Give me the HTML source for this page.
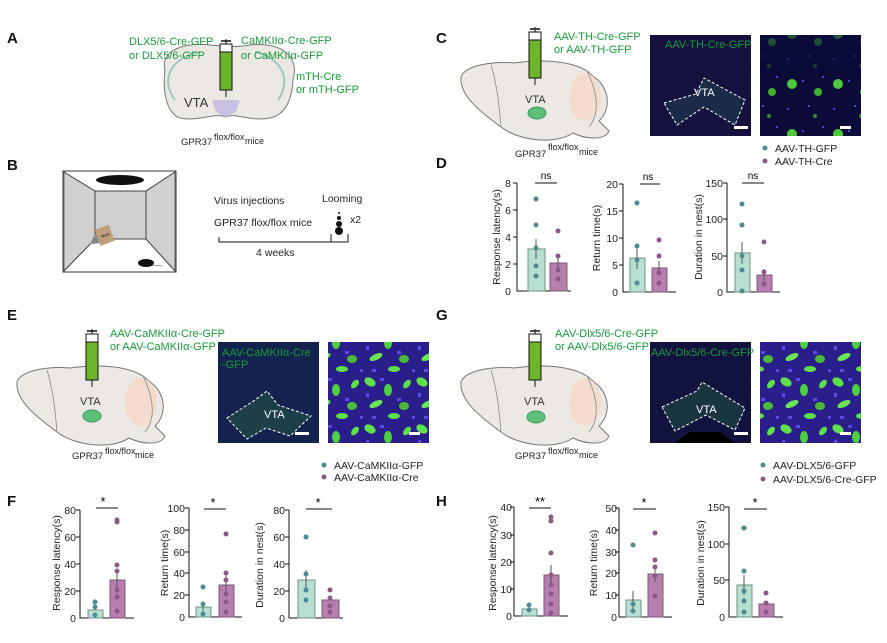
<!DOCTYPE html>
<html><head><meta charset="utf-8"><style>
html,body{margin:0;padding:0;background:#fff}
svg{display:block;font-family:"Liberation Sans",Arial,sans-serif}
.g{fill:#1a9a3a;font-size:11px}
.t{font-size:10.5px;fill:#222}
.lab{font-size:15px;font-weight:bold;fill:#111}
.tk{font-size:10.5px;fill:#222;text-anchor:end}
.yl{font-size:10.5px;fill:#222;text-anchor:middle}
.ax{stroke:#111;stroke-width:1;fill:none}
.bt{fill:#b7e0d2;stroke:#6f8f86;stroke-width:1}
.bp{fill:#b77fae;stroke:#7d5a78;stroke-width:1}
.dt{fill:#4f8a92}.dp{fill:#8a5a84}
.brain{fill:#ece9e4;stroke:#777;stroke-width:1}
</style></head><body>
<svg width="887" height="643" viewBox="0 0 887 643" xmlns="http://www.w3.org/2000/svg">
<defs>
<pattern id="blobs" width="52" height="47" patternUnits="userSpaceOnUse">
<rect width="52" height="47" fill="#2a1f8a"/>
<ellipse cx="6" cy="6" rx="6" ry="4" fill="#5ee04a" transform="rotate(30 6 6)"/>
<ellipse cx="24" cy="14" rx="4" ry="6" fill="#4fd040"/>
<ellipse cx="12" cy="28" rx="7" ry="3" fill="#6ae655" transform="rotate(-25 12 28)"/>
<ellipse cx="40" cy="30" rx="5" ry="4" fill="#4ab838"/>
<ellipse cx="43" cy="8" rx="3" ry="5" fill="#5ee04a" transform="rotate(40 43 8)"/>
<ellipse cx="30" cy="40" rx="6" ry="3" fill="#5ee04a"/>
<rect x="16" y="2" width="4" height="3" fill="#5a4ae8"/>
<rect x="2" y="17" width="3" height="4" fill="#5a4ae8"/>
<rect x="33" y="22" width="4" height="3" fill="#5a4ae8"/>
<rect x="48" y="40" width="3" height="3" fill="#5a4ae8"/>
<rect x="8" y="40" width="4" height="3" fill="#5a4ae8"/>
</pattern>
<pattern id="blobs2" width="46" height="50" patternUnits="userSpaceOnUse">
<rect width="46" height="50" fill="#0c0b3a"/>
<circle cx="10" cy="34" r="5" fill="#4ec83e"/>
<circle cx="33" cy="16" r="2" fill="#3a8a30"/>
<circle cx="36" cy="42" r="4" fill="#3fb030"/>
<rect x="20" y="30" width="2" height="2" fill="#4e3fd8"/>
<rect x="5" y="8" width="2" height="2" fill="#4e3fd8"/>
<rect x="26" y="5" width="2" height="2" fill="#4e3fd8"/>
<rect x="40" y="26" width="2" height="2" fill="#4e3fd8"/>
</pattern>
<g id="sag">
<path class="brain" d="M2,22 C6,10 35,6 55,8 C85,4 112,6 128,16 L140,26 C152,40 150,56 140,66 L150,76 C146,86 126,84 114,78 C96,90 60,86 42,72 C26,60 0,42 2,22Z"/>
<path d="M32,10 C38,30 40,48 42,72" fill="none" stroke="#888" stroke-width="0.8"/>
<ellipse cx="126" cy="42" rx="16" ry="24" fill="#f3dccd"/>
<path d="M128,16 C140,40 140,60 130,72" fill="none" stroke="#888" stroke-width="0.8"/>
</g>
<g id="syr">
<line x1="0" y1="-2" x2="0" y2="56" stroke="#111"/>
<line x1="-5" y1="0" x2="5" y2="0" stroke="#111" stroke-width="1.5"/>
<rect x="-6" y="3" width="12" height="8" fill="#fff" stroke="#111"/>
<rect x="-6" y="11" width="12" height="38" fill="#6db52a" stroke="#111"/>
</g>
</defs>

<!-- A -->
<text class="lab" x="7" y="43">A</text>
<path class="brain" d="M165,70 C160,50 185,42 210,45 C226,47 240,47 250,45 C280,42 300,55 293,80 C292,100 285,115 270,118 C250,122 235,112 226,117 C215,112 200,122 180,118 C168,114 162,95 165,70Z"/>
<path d="M175,100 C160,80 170,58 200,52 M278,100 C292,80 282,58 255,52" fill="none" stroke="#9cc8c0" stroke-width="2"/>
<path d="M212,100 L240,100 L236,112 L226,117 L216,112Z" fill="#c8c0e0"/>
<use href="#syr" x="226" y="41"/>
<text class="g" x="129" y="45">DLX5/6-Cre-GFP</text>
<text class="g" x="129" y="59">or DLX5/6-GFP</text>
<text class="g" x="241" y="44">CaMKIIα-Cre-GFP</text>
<text class="g" x="241" y="59">or CaMKIIα-GFP</text>
<text class="g" x="296" y="80">mTH-Cre</text>
<text class="g" x="296" y="93">or mTH-GFP</text>
<text x="184" y="107" style="font-size:13px;fill:#333">VTA</text>
<text class="t" x="181" y="145" style="font-size:9.5px">GPR37</text>
<text class="t" x="214" y="140" style="font-size:9px">flox/flox</text>
<text class="t" x="245" y="144" style="font-size:9px">mice</text>

<!-- B -->
<text class="lab" x="7" y="170">B</text>
<rect x="63" y="171" width="113" height="101" fill="#fff" stroke="#333"/>
<path d="M64,172 L95,191 L95,239 L64,271Z M175,172 L146,191 L146,239 L175,271Z" fill="#d0d0d0" stroke="#444" stroke-width="0.7"/>
<rect x="95" y="191" width="51" height="48" fill="#d0d0d0" stroke="#444"/>
<path d="M64,172 L95,191 L146,191 L175,172 M64,271 L95,239 L146,239 L175,271" fill="none" stroke="#444"/>
<ellipse cx="120" cy="180" rx="24" ry="5" fill="#111"/>
<path d="M90,244 L97,230 L102,243Z" fill="#888"/>
<rect x="97" y="227" width="15" height="17" fill="#c0a07c" transform="rotate(-20 104 235)"/>
<text x="101" y="237" style="font-size:4px" transform="rotate(-20 104 235)">Nest</text>
<ellipse cx="146" cy="263" rx="8" ry="4" fill="#111"/>
<line x1="152" y1="265" x2="162" y2="266" stroke="#333" stroke-width="0.5"/>
<text class="t" x="214" y="204">Virus injections</text>
<text class="t" x="214" y="226">GPR37 flox/flox mice</text>
<text class="t" x="322" y="202">Looming</text>
<text class="t" x="350" y="223">x2</text>
<circle cx="339" cy="231" r="4" fill="#111"/><circle cx="339" cy="224" r="3" fill="#111"/><circle cx="339" cy="218" r="2" fill="#111"/><circle cx="339" cy="213" r="1" fill="#111"/>
<path d="M219,237 L219,242 L348,242 L348,234 M331,234 L331,242" fill="none" stroke="#111"/>
<text class="t" x="256" y="256">4 weeks</text>

<!-- C -->
<text class="lab" x="436" y="43">C</text>
<use href="#sag" x="459" y="55"/>
<ellipse cx="537" cy="113" rx="9" ry="6" fill="#5fbf7a" stroke="#3a9a5a"/>
<use href="#syr" x="535" y="29"/>
<text class="g" x="554" y="40">AAV-TH-Cre-GFP</text>
<text class="g" x="554" y="53">or AAV-TH-GFP</text>
<text x="525" y="103" style="font-size:11px;fill:#333">VTA</text>
<text class="t" x="515" y="157" style="font-size:9.5px">GPR37</text>
<text class="t" x="548" y="150" style="font-size:9px">flox/flox</text>
<text class="t" x="579" y="155" style="font-size:9px">mice</text>
<rect x="650" y="35" width="101" height="101" fill="#15113e"/>
<text x="665" y="48" style="font-size:11px;fill:#1a9a3a">AAV-TH-Cre-GFP</text>
<path d="M664,103 L696,94 L704,78 L745,100 L735,125 L704,107 L677,125Z" fill="#1a2a48" stroke="#fff" stroke-dasharray="3,2"/>
<text x="694" y="96" style="font-size:11px;fill:#fff">VTA</text>
<rect x="734" y="126" width="14" height="3" fill="#fff"/>
<rect x="760" y="35" width="101" height="101" fill="url(#blobs2)"/>
<rect x="760" y="35" width="101" height="40" fill="#0c0b3a" opacity="0.6"/>
<rect x="840" y="126" width="11" height="3" fill="#fff"/>
<circle cx="765" cy="148" r="2.5" class="dt"/><text class="t" x="775" y="152">AAV-TH-GFP</text>
<circle cx="765" cy="161" r="2.5" class="dp"/><text class="t" x="775" y="165">AAV-TH-Cre</text>

<!-- D -->
<text class="lab" x="436" y="168">D</text>
<g>
<path class="ax" d="M517,183 L517,291 L571,291 M513,183 L517,183 M513,210 L517,210 M513,237 L517,237 M513,264 L517,264"/>
<text class="tk" x="511" y="187">8</text><text class="tk" x="511" y="214">6</text><text class="tk" x="511" y="241">4</text><text class="tk" x="511" y="268">2</text><text class="tk" x="511" y="295">0</text>
<rect class="bt" x="528" y="249" width="17" height="42"/><rect class="bp" x="550" y="263" width="17" height="28"/>
<line x1="536" y1="239" x2="536" y2="259" stroke="#555"/><line x1="558" y1="256" x2="558" y2="270" stroke="#555"/>
<circle class="dt" cx="536" cy="199" r="2.5"/><circle class="dt" cx="536" cy="225" r="2.5"/><circle class="dt" cx="536" cy="266" r="2.5"/><circle class="dt" cx="536" cy="276" r="2.5"/><circle class="dt" cx="536" cy="248" r="2.5"/>
<circle class="dp" cx="558" cy="231" r="2.5"/><circle class="dp" cx="558" cy="256" r="2.5"/><circle class="dp" cx="558" cy="270" r="2.5"/><circle class="dp" cx="558" cy="279" r="2.5"/>
<line x1="535" y1="183" x2="557" y2="183" stroke="#111"/><text x="546" y="179" style="font-size:10px;text-anchor:middle">ns</text>
<text class="yl" transform="translate(500,237) rotate(-90)">Response latency(s)</text>
</g>
<g>
<path class="ax" d="M623,184 L623,292 L676,292 M619,184 L623,184 M619,211 L623,211 M619,238 L623,238 M619,265 L623,265"/>
<text class="tk" x="618" y="188">20</text><text class="tk" x="618" y="215">15</text><text class="tk" x="618" y="242">10</text><text class="tk" x="618" y="269">5</text><text class="tk" x="618" y="296">0</text>
<rect class="bt" x="630" y="258" width="15" height="34"/><rect class="bp" x="652" y="268" width="15" height="24"/>
<line x1="637" y1="247" x2="637" y2="269" stroke="#555"/><line x1="659" y1="261" x2="659" y2="275" stroke="#555"/>
<circle class="dt" cx="637" cy="203" r="2.5"/><circle class="dt" cx="637" cy="246" r="2.5"/><circle class="dt" cx="637" cy="260" r="2.5"/><circle class="dt" cx="637" cy="283" r="2.5"/>
<circle class="dp" cx="659" cy="240" r="2.5"/><circle class="dp" cx="659" cy="256" r="2.5"/><circle class="dp" cx="659" cy="273" r="2.5"/><circle class="dp" cx="659" cy="283" r="2.5"/>
<line x1="640" y1="184" x2="660" y2="184" stroke="#111"/><text x="648" y="180" style="font-size:10px;text-anchor:middle">ns</text>
<text class="yl" transform="translate(600,238) rotate(-90)">Return time(s)</text>
</g>
<g>
<path class="ax" d="M727,183 L727,292 L780,292 M723,183 L727,183 M723,219 L727,219 M723,256 L727,256"/>
<text class="tk" x="723" y="187">150</text><text class="tk" x="723" y="223">100</text><text class="tk" x="723" y="260">50</text><text class="tk" x="723" y="296">0</text>
<rect class="bt" x="735" y="253" width="15" height="39"/><rect class="bp" x="757" y="275" width="15" height="17"/>
<line x1="742" y1="242" x2="742" y2="264" stroke="#555"/><line x1="764" y1="269" x2="764" y2="281" stroke="#555"/>
<circle class="dt" cx="742" cy="204" r="2.5"/><circle class="dt" cx="742" cy="225" r="2.5"/><circle class="dt" cx="742" cy="256" r="2.5"/><circle class="dt" cx="742" cy="270" r="2.5"/><circle class="dt" cx="742" cy="291" r="2.5"/>
<circle class="dp" cx="764" cy="242" r="2.5"/><circle class="dp" cx="764" cy="272" r="2.5"/><circle class="dp" cx="764" cy="284" r="2.5"/>
<line x1="742" y1="183" x2="764" y2="183" stroke="#111"/><text x="753" y="179" style="font-size:10px;text-anchor:middle">ns</text>
<text class="yl" transform="translate(702,237) rotate(-90)">Duration in nest(s)</text>
</g>

<!-- E -->
<text class="lab" x="7" y="320">E</text>
<use href="#sag" x="15" y="360"/>
<ellipse cx="92" cy="416" rx="9" ry="6" fill="#5fbf7a" stroke="#3a9a5a"/>
<use href="#syr" x="92" y="331"/>
<text class="g" x="110" y="337">AAV-CaMKIIα-Cre-GFP</text>
<text class="g" x="110" y="350">or AAV-CaMKIIα-GFP</text>
<text x="80" y="405" style="font-size:11px;fill:#333">VTA</text>
<text class="t" x="72" y="459" style="font-size:9.5px">GPR37</text>
<text class="t" x="105" y="454" style="font-size:9px">flox/flox</text>
<text class="t" x="135" y="458" style="font-size:9px">mice</text>
<rect x="218" y="342" width="101" height="101" fill="#13234e"/>
<text x="222" y="356" style="font-size:11px;fill:#1a9a3a">AAV-CaMKIIα-Cre</text>
<text x="222" y="368" style="font-size:11px;fill:#1a9a3a">-GFP</text>
<path d="M227,418 L255,400 L267,391 L278,405 L311,416 L290,436 L266,428 L247,439Z" fill="#1c3f48" stroke="#fff" stroke-dasharray="3,2"/>
<text x="264" y="418" style="font-size:11px;fill:#fff">VTA</text>
<rect x="295" y="432" width="14" height="3" fill="#fff"/>
<rect x="328" y="342" width="101" height="101" fill="url(#blobs)"/>
<rect x="409" y="432" width="11" height="3" fill="#fff"/>
<circle cx="324" cy="465" r="2.5" class="dt"/><text class="t" x="334" y="469">AAV-CaMKIIα-GFP</text>
<circle cx="324" cy="477" r="2.5" class="dp"/><text class="t" x="334" y="481">AAV-CaMKIIα-Cre</text>

<!-- F -->
<text class="lab" x="7" y="506">F</text>
<g>
<path class="ax" d="M80,510 L80,618 L134,618 M76,510 L80,510 M76,537 L80,537 M76,564 L80,564 M76,591 L80,591"/>
<text class="tk" x="76" y="514">80</text><text class="tk" x="76" y="541">60</text><text class="tk" x="76" y="568">40</text><text class="tk" x="76" y="595">20</text><text class="tk" x="76" y="622">0</text>
<rect class="bt" x="88" y="610" width="15" height="8"/><rect class="bp" x="110" y="580" width="15" height="38"/>
<line x1="117" y1="570" x2="117" y2="590" stroke="#555"/>
<circle class="dt" cx="95" cy="602" r="2.5"/><circle class="dt" cx="95" cy="607" r="2.5"/><circle class="dt" cx="95" cy="615" r="2.5"/>
<circle class="dp" cx="117" cy="520" r="2.5"/><circle class="dp" cx="117" cy="522" r="2.5"/><circle class="dp" cx="117" cy="565" r="2.5"/><circle class="dp" cx="117" cy="571" r="2.5"/><circle class="dp" cx="117" cy="590" r="2.5"/><circle class="dp" cx="117" cy="597" r="2.5"/><circle class="dp" cx="117" cy="611" r="2.5"/>
<line x1="96" y1="508" x2="118" y2="508" stroke="#111"/><text x="103" y="506" style="font-size:13px;text-anchor:middle">*</text>
<text class="yl" transform="translate(60,563) rotate(-90)">Response latency(s)</text>
</g>
<g>
<path class="ax" d="M189,508 L189,617 L242,617 M185,508 L189,508 M185,530 L189,530 M185,552 L189,552 M185,573 L189,573 M185,595 L189,595"/>
<text class="tk" x="185" y="512">100</text><text class="tk" x="185" y="534">80</text><text class="tk" x="185" y="556">60</text><text class="tk" x="185" y="577">40</text><text class="tk" x="185" y="599">20</text><text class="tk" x="185" y="621">0</text>
<rect class="bt" x="196" y="607" width="15" height="10"/><rect class="bp" x="219" y="585" width="15" height="32"/>
<line x1="203" y1="603" x2="203" y2="611" stroke="#555"/><line x1="226" y1="575" x2="226" y2="595" stroke="#555"/>
<circle class="dt" cx="203" cy="587" r="2.5"/><circle class="dt" cx="203" cy="604" r="2.5"/><circle class="dt" cx="203" cy="614" r="2.5"/>
<circle class="dp" cx="226" cy="534" r="2.5"/><circle class="dp" cx="226" cy="573" r="2.5"/><circle class="dp" cx="226" cy="580" r="2.5"/><circle class="dp" cx="226" cy="594" r="2.5"/><circle class="dp" cx="226" cy="602" r="2.5"/><circle class="dp" cx="226" cy="612" r="2.5"/>
<line x1="204" y1="509" x2="226" y2="509" stroke="#111"/><text x="213" y="507" style="font-size:13px;text-anchor:middle">*</text>
<text class="yl" transform="translate(168,563) rotate(-90)">Return time(s)</text>
</g>
<g>
<path class="ax" d="M289,510 L289,618 L343,618 M285,510 L289,510 M285,537 L289,537 M285,564 L289,564 M285,591 L289,591"/>
<text class="tk" x="285" y="514">80</text><text class="tk" x="285" y="541">60</text><text class="tk" x="285" y="568">40</text><text class="tk" x="285" y="595">20</text><text class="tk" x="285" y="622">0</text>
<rect class="bt" x="298" y="580" width="17" height="38"/><rect class="bp" x="322" y="600" width="17" height="18"/>
<line x1="306" y1="570" x2="306" y2="590" stroke="#555"/>
<circle class="dt" cx="306" cy="537" r="2.5"/><circle class="dt" cx="306" cy="574" r="2.5"/><circle class="dt" cx="306" cy="590" r="2.5"/><circle class="dt" cx="306" cy="600" r="2.5"/>
<circle class="dp" cx="330" cy="590" r="2.5"/><circle class="dp" cx="330" cy="598" r="2.5"/><circle class="dp" cx="330" cy="606" r="2.5"/><circle class="dp" cx="330" cy="612" r="2.5"/>
<line x1="306" y1="509" x2="332" y2="509" stroke="#111"/><text x="318" y="507" style="font-size:13px;text-anchor:middle">*</text>
<text class="yl" transform="translate(263,565) rotate(-90)">Duration in nest(s)</text>
</g>

<!-- G -->
<text class="lab" x="436" y="320">G</text>
<use href="#sag" x="459" y="360"/>
<ellipse cx="536" cy="417" rx="9" ry="6" fill="#5fbf7a" stroke="#3a9a5a"/>
<use href="#syr" x="535" y="331"/>
<text class="g" x="555" y="337">AAV-Dlx5/6-Cre-GFP</text>
<text class="g" x="555" y="350">or AAV-Dlx5/6-GFP</text>
<text x="524" y="405" style="font-size:11px;fill:#333">VTA</text>
<text class="t" x="515" y="459" style="font-size:9.5px">GPR37</text>
<text class="t" x="548" y="454" style="font-size:9px">flox/flox</text>
<text class="t" x="579" y="458" style="font-size:9px">mice</text>
<rect x="650" y="342" width="101" height="101" fill="#12123e"/>
<path d="M675,443 L690,432 L720,432 L735,443Z" fill="#000"/>
<text x="651" y="356" style="font-size:11px;fill:#1a9a3a">AAV-Dlx5/6-Cre-GFP</text>
<path d="M662,407 L697,391 L702,382 L745,408 L735,430 L706,415 L675,431Z" fill="#1a3542" stroke="#fff" stroke-dasharray="3,2"/>
<text x="696" y="413" style="font-size:11px;fill:#fff">VTA</text>
<rect x="734" y="432" width="14" height="3" fill="#fff"/>
<rect x="760" y="342" width="101" height="101" fill="url(#blobs)"/>
<rect x="840" y="432" width="11" height="3" fill="#fff"/>
<circle cx="763" cy="465" r="2.5" class="dt"/><text class="t" x="773" y="469">AAV-DLX5/6-GFP</text>
<circle cx="763" cy="479" r="2.5" class="dp"/><text class="t" x="773" y="483">AAV-DLX5/6-Cre-GFP</text>

<!-- H -->
<text class="lab" x="436" y="506">H</text>
<g>
<path class="ax" d="M514,507 L514,616 L568,616 M510,507 L514,507 M510,535 L514,535 M510,562 L514,562 M510,589 L514,589"/>
<text class="tk" x="512" y="511">40</text><text class="tk" x="512" y="539">30</text><text class="tk" x="512" y="566">20</text><text class="tk" x="512" y="593">10</text><text class="tk" x="512" y="620">0</text>
<rect class="bt" x="522" y="609" width="15" height="7"/><rect class="bp" x="544" y="575" width="15" height="41"/>
<line x1="551" y1="565" x2="551" y2="585" stroke="#555"/>
<circle class="dt" cx="529" cy="605" r="2.5"/><circle class="dt" cx="529" cy="610" r="2.5"/>
<circle class="dp" cx="551" cy="517" r="2.5"/><circle class="dp" cx="551" cy="521" r="2.5"/><circle class="dp" cx="551" cy="553" r="2.5"/><circle class="dp" cx="551" cy="575" r="2.5"/><circle class="dp" cx="551" cy="585" r="2.5"/><circle class="dp" cx="551" cy="594" r="2.5"/><circle class="dp" cx="551" cy="604" r="2.5"/><circle class="dp" cx="551" cy="613" r="2.5"/>
<line x1="529" y1="508" x2="551" y2="508" stroke="#111"/><text x="540" y="506" style="font-size:13px;text-anchor:middle">**</text>
<text class="yl" transform="translate(496,563) rotate(-90)">Response latency(s)</text>
</g>
<g>
<path class="ax" d="M619,508 L619,617 L672,617 M615,508 L619,508 M615,530 L619,530 M615,552 L619,552 M615,573 L619,573 M615,595 L619,595"/>
<text class="tk" x="617" y="512">50</text><text class="tk" x="617" y="534">40</text><text class="tk" x="617" y="556">30</text><text class="tk" x="617" y="577">20</text><text class="tk" x="617" y="599">10</text><text class="tk" x="617" y="621">0</text>
<rect class="bt" x="626" y="600" width="15" height="17"/><rect class="bp" x="648" y="574" width="15" height="43"/>
<line x1="633" y1="591" x2="633" y2="609" stroke="#555"/><line x1="655" y1="566" x2="655" y2="582" stroke="#555"/>
<circle class="dt" cx="633" cy="545" r="2.5"/><circle class="dt" cx="633" cy="604" r="2.5"/><circle class="dt" cx="633" cy="611" r="2.5"/>
<circle class="dp" cx="655" cy="533" r="2.5"/><circle class="dp" cx="655" cy="560" r="2.5"/><circle class="dp" cx="655" cy="567" r="2.5"/><circle class="dp" cx="655" cy="576" r="2.5"/><circle class="dp" cx="655" cy="596" r="2.5"/>
<line x1="633" y1="509" x2="656" y2="509" stroke="#111"/><text x="644" y="507" style="font-size:13px;text-anchor:middle">*</text>
<text class="yl" transform="translate(597,563) rotate(-90)">Return time(s)</text>
</g>
<g>
<path class="ax" d="M729,507 L729,617 L783,617 M725,507 L729,507 M725,544 L729,544 M725,580 L729,580"/>
<text class="tk" x="725" y="511">150</text><text class="tk" x="725" y="548">100</text><text class="tk" x="725" y="584">50</text><text class="tk" x="725" y="621">0</text>
<rect class="bt" x="737" y="585" width="15" height="32"/><rect class="bp" x="759" y="604" width="15" height="13"/>
<line x1="744" y1="575" x2="744" y2="595" stroke="#555"/>
<circle class="dt" cx="744" cy="528" r="2.5"/><circle class="dt" cx="744" cy="571" r="2.5"/><circle class="dt" cx="744" cy="591" r="2.5"/><circle class="dt" cx="744" cy="601" r="2.5"/><circle class="dt" cx="744" cy="612" r="2.5"/>
<circle class="dp" cx="766" cy="593" r="2.5"/><circle class="dp" cx="766" cy="603" r="2.5"/><circle class="dp" cx="766" cy="612" r="2.5"/>
<line x1="744" y1="509" x2="767" y2="509" stroke="#111"/><text x="755" y="507" style="font-size:13px;text-anchor:middle">*</text>
<text class="yl" transform="translate(704,563) rotate(-90)">Duration in nest(s)</text>
</g>
</svg>
</body></html>
